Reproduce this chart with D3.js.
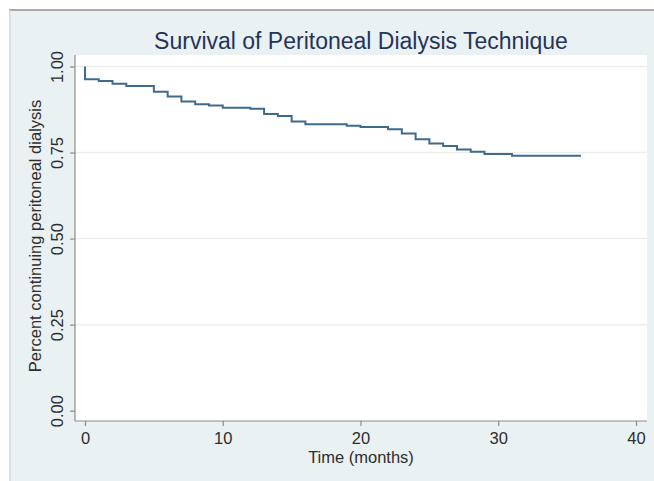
<!DOCTYPE html>
<html>
<head>
<meta charset="utf-8">
<script src="https://cdn.jsdelivr.net/npm/d3@7"></script>
<style>
  html, body { margin: 0; padding: 0; background: #ffffff; }
  svg { display: block; font-family: "Liberation Sans", Arial, sans-serif; }
</style>
</head>
<body>
<svg id="chart" width="654" height="481"></svg>
<script>
// Kaplan-Meier estimate of technique survival (months since start of PD)
const stepTimes = [0, 0, 1, 2, 3, 5, 6, 7, 8, 9, 10, 12, 13, 14, 15, 16, 19, 20, 22, 23, 24, 25, 26, 27, 28, 29, 31, 36];
const survival  = [1.000, 0.963, 0.958, 0.950, 0.943, 0.927, 0.913, 0.898, 0.890, 0.887, 0.880, 0.877, 0.862, 0.856, 0.840, 0.832, 0.828, 0.824, 0.818, 0.805, 0.789, 0.776, 0.769, 0.759, 0.752, 0.746, 0.741, 0.741];

const xTicks = [0, 10, 20, 30, 40];
const yTicks = [0, 0.25, 0.5, 0.75, 1];
const yTickLabels = ["0.00", "0.25", "0.50", "0.75", "1.00"];

const titleText = "Survival of Peritoneal Dialysis Technique";
const xTitle = "Time (months)";
const yTitle = "Percent continuing peritoneal dialysis";

const svg = d3.select("#chart");

// outer graph region
svg.append("rect").attr("x", 9).attr("y", 9).attr("width", 645).attr("height", 472)
  .attr("fill", "#eaf1f3");
svg.append("line").attr("x1", 9).attr("x2", 654).attr("y1", 10).attr("y2", 10)
  .attr("stroke", "#a9abab").attr("stroke-width", 2);
svg.append("line").attr("x1", 10).attr("x2", 10).attr("y1", 10).attr("y2", 481)
  .attr("stroke", "#d3dadc").attr("stroke-width", 1.5);

// plot region
const plot = { left: 75, right: 647, top: 55, bottom: 421 };
svg.append("rect").attr("x", plot.left).attr("y", plot.top)
  .attr("width", plot.right - plot.left).attr("height", plot.bottom - plot.top)
  .attr("fill", "#ffffff");

const x = d3.scaleLinear().domain([0, 40]).range([85, 636]);
const y = d3.scaleLinear().domain([0, 1]).range([410.7, 66.5]);

// horizontal grid lines
svg.append("g").selectAll("line").data(yTicks.filter(d => d > 0)).join("line")
  .attr("x1", plot.left).attr("x2", plot.right)
  .attr("y1", d => y(d)).attr("y2", d => y(d))
  .attr("stroke", "#eceeee").attr("stroke-width", 1.5);

// y axis
const yAxis = d3.axisLeft(y).tickValues(yTicks).tickSize(5).tickPadding(4)
  .tickFormat((d, i) => yTickLabels[i]);
const gy = svg.append("g").attr("transform", `translate(${plot.left},0)`).call(yAxis);
gy.select(".domain").remove();
gy.append("line").attr("x1", 0).attr("x2", 0).attr("y1", plot.top).attr("y2", plot.bottom)
  .attr("stroke", "#8a8c8e").attr("stroke-width", 1.2);
gy.selectAll(".tick line").attr("stroke", "#8a8c8e").attr("stroke-width", 1.2);
gy.selectAll(".tick text")
  .attr("x", null)
  .attr("transform", "translate(-12,0) rotate(-90)")
  .attr("text-anchor", "middle")
  .attr("dy", "0")
  .attr("fill", "#2e2e2e").style("font-size", "16.5px");

// x axis
const xAxis = d3.axisBottom(x).tickValues(xTicks).tickSize(5).tickPadding(3)
  .tickFormat(d3.format("d"));
const gx = svg.append("g").attr("transform", `translate(0,${plot.bottom})`).call(xAxis);
gx.select(".domain").remove();
gx.append("line").attr("x1", plot.left).attr("x2", plot.right).attr("y1", 0).attr("y2", 0)
  .attr("stroke", "#8a8c8e").attr("stroke-width", 1.2);
gx.selectAll(".tick line").attr("stroke", "#8a8c8e").attr("stroke-width", 1.2);
gx.selectAll(".tick text").attr("y", 23).attr("dy", "0")
  .attr("fill", "#2e2e2e").style("font-size", "16.5px");

// survival step curve
const pts = stepTimes.map((t, i) => [t, survival[i]]);
const line = d3.line().x(d => x(d[0])).y(d => y(d[1])).curve(d3.curveStepAfter);
svg.append("path").datum(pts).attr("d", line)
  .attr("fill", "none").attr("stroke", "#3e6b8d").attr("stroke-width", 2);

// titles
svg.append("text").attr("x", 361).attr("y", 49).attr("text-anchor", "middle")
  .attr("fill", "#25345a").style("font-size", "23px").text(titleText);
svg.append("text").attr("x", 361).attr("y", 463).attr("text-anchor", "middle")
  .attr("fill", "#2e2e2e").style("font-size", "16.5px").text(xTitle);
svg.append("text").attr("transform", "translate(41,236) rotate(-90)")
  .attr("text-anchor", "middle")
  .attr("fill", "#2e2e2e").style("font-size", "16.5px").text(yTitle);
</script>
</body>
</html>
